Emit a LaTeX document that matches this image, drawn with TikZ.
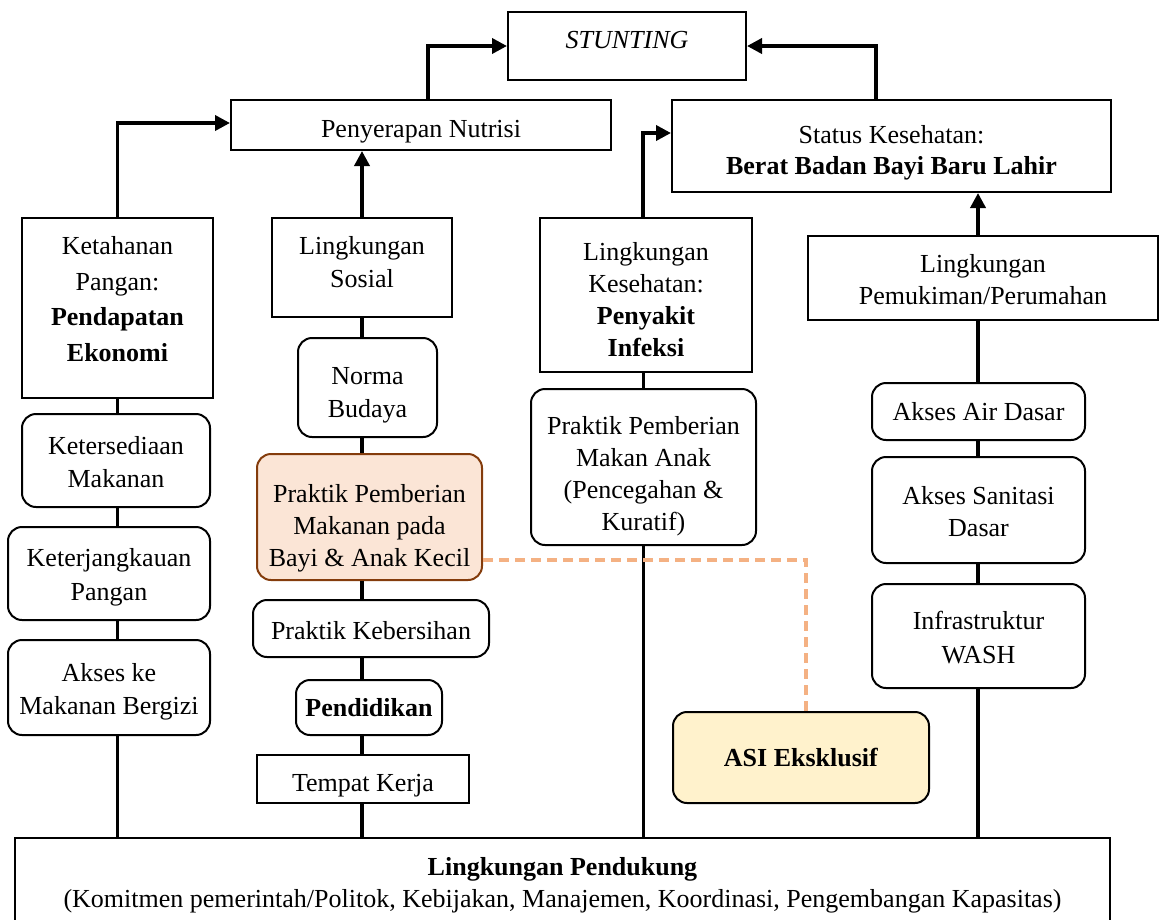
\documentclass[tikz,border=0pt]{standalone}
\usepackage{fontspec}
\setmainfont{Liberation Serif}
\usetikzlibrary{arrows.meta}
\definecolor{peachfill}{HTML}{FBE5D6}
\definecolor{peachdraw}{HTML}{843C0C}
\definecolor{asifill}{HTML}{FFF2CC}
\definecolor{dashcol}{HTML}{F4B183}
\tikzset{
  base/.style={draw=black, line width=2pt, fill=white, inner sep=0pt},
  sq/.style={base},
  rnd/.style={base, rounded corners=14pt},
  txt/.style={align=center, inner sep=0pt, font=\fontsize{26}{33}\selectfont},
  conn/.style={line width=3.6pt, black},
  arr/.style={conn, -{Triangle[length=15pt,width=15pt]}},
  dashline/.style={line width=3.2pt, dashcol, dash pattern=on 10pt off 6pt},
}
% \mybox[text options]{shape style}{name}{cx}{cy}{w}{h}{dy (down)}{text}
\newcommand\mybox[9][]{%
  \node[#2, minimum width=#6, minimum height=#7] (#3) at (#4,#5) {};
  \node[txt,#1] (#3-t) at ([yshift=-#8pt]#3.center) {#9};
}
\begin{document}
\begin{tikzpicture}[x=1pt,y=-1pt]
\useasboundingbox (0,0) rectangle (1161,919);
% top row
\mybox{sq}{stunt}{627}{46}{238}{68}{-6}{\textit{STUNTING}}
\mybox{sq}{nutri}{421}{125}{380}{50}{7}{Penyerapan Nutrisi}
\mybox[font=\fontsize{26}{31}\selectfont]{sq}{status}{891.5}{146}{439}{92}{7}{Status Kesehatan:\\\textbf{Berat Badan Bayi Baru Lahir}}
% column 1
\mybox[font=\fontsize{26}{35.5}\selectfont]{sq}{ketahanan}{117.5}{308}{191}{180}{-9}{Ketahanan\\Pangan:\\\textbf{Pendapatan}\\\textbf{Ekonomi}}
\mybox{rnd}{sedia}{116}{460.5}{188}{93}{2}{Ketersediaan\\Makanan}
\mybox[font=\fontsize{26}{34}\selectfont]{rnd}{jangkau}{109}{573.5}{202}{93}{4}{Keterjangkauan\\Pangan}
\mybox{rnd}{akses}{109}{687.5}{202}{95}{4}{Akses ke\\Makanan Bergizi}
% column 2
\mybox{sq}{sosial}{362}{267.5}{180}{99}{-5}{Lingkungan\\Sosial}
\mybox{rnd}{norma}{367.5}{387.5}{139}{99}{8}{Norma\\Budaya}
\mybox[font=\fontsize{26}{32}\selectfont]{rnd, draw=peachdraw, fill=peachfill}{pmba}{369.5}{517}{225}{126}{11}{Praktik Pemberian\\Makanan pada\\Bayi \& Anak Kecil}
\mybox{rnd}{bersih}{371}{628.5}{236}{57}{2}{Praktik Kebersihan}
\mybox{rnd}{didik}{369}{707.5}{146}{55}{0}{\textbf{Pendidikan}}
\mybox{sq}{kerja}{363}{779}{212}{48}{7}{Tempat Kerja}
% column 3
\mybox[font=\fontsize{26}{32}\selectfont]{sq}{kesehatan}{646}{295}{212}{154}{5}{Lingkungan\\Kesehatan:\\\textbf{Penyakit}\\\textbf{Infeksi}}
\mybox[font=\fontsize{26}{32}\selectfont]{rnd}{pmakan}{643.5}{467}{225}{156}{9}{Praktik Pemberian\\Makan Anak\\(Pencegahan \&\\Kuratif)}
% column 4
\mybox[font=\fontsize{26}{32}\selectfont]{sq}{pemukiman}{983}{278}{350}{84}{1.5}{Lingkungan\\Pemukiman/Perumahan}
\mybox{rnd}{air}{978.5}{411.5}{213}{57}{0}{Akses Air Dasar}
\mybox[font=\fontsize{26}{32}\selectfont]{rnd}{sanitasi}{978.5}{510}{213}{106}{2}{Akses Sanitasi\\Dasar}
\mybox[font=\fontsize{26}{34}\selectfont]{rnd}{wash}{978.5}{636}{213}{104}{2}{Infrastruktur\\WASH}
% ASI
\mybox{rnd, fill=asifill}{asi}{801}{757.5}{256}{91}{0}{\textbf{ASI Eksklusif}}
% bottom
\mybox[font=\fontsize{26}{32}\selectfont]{sq}{pendukung}{562.5}{880}{1095}{84}{5.5}{\textbf{Lingkungan Pendukung}\\(Komitmen pemerintah/Politok, Kebijakan, Manajemen, Koordinasi, Pengembangan Kapasitas)}

% arrows to top
\draw[arr] ([xshift=7pt]nutri.north) |- (stunt.west);
\draw[arr] ([xshift=-15.5pt]status.north) |- (stunt.east);
\draw[arr] (ketahanan.north) |- ([yshift=2pt]nutri.west);
\draw[arr] (sosial.north) -- (sosial.north |- nutri.south);
\draw[arr] ([xshift=-3pt]kesehatan.north) |- ([yshift=13pt]status.west);
\draw[arr] ([xshift=-5pt]pemukiman.north) -- ([xshift=-5pt]pemukiman.north |- status.south);

% column 1 chain
\draw[conn] (ketahanan.south) -- (ketahanan.south |- sedia.north);
\draw[conn] (ketahanan.south |- sedia.south) -- (ketahanan.south |- jangkau.north);
\draw[conn] (ketahanan.south |- jangkau.south) -- (ketahanan.south |- akses.north);
\draw[conn] (ketahanan.south |- akses.south) -- (ketahanan.south |- pendukung.north);
% column 2 chain
\draw[conn] (sosial.south) -- (sosial.south |- norma.north);
\draw[conn] (sosial.south |- norma.south) -- (sosial.south |- pmba.north);
\draw[conn] (sosial.south |- pmba.south) -- (sosial.south |- bersih.north);
\draw[conn] (sosial.south |- bersih.south) -- (sosial.south |- didik.north);
\draw[conn] (sosial.south |- didik.south) -- (sosial.south |- kerja.north);
\draw[conn] (sosial.south |- kerja.south) -- (sosial.south |- pendukung.north);
% column 3 chain
\draw[conn] (pmakan.north |- kesehatan.south) -- (pmakan.north);
\draw[conn] (pmakan.south) -- (pmakan.south |- pendukung.north);
% column 4 chain
\draw[conn] ([xshift=-5pt]pemukiman.south) -- ([xshift=-5pt]pemukiman.south |- air.north);
\draw[conn] ([xshift=-5pt]pemukiman.south |- air.south) -- ([xshift=-5pt]pemukiman.south |- sanitasi.north);
\draw[conn] ([xshift=-5pt]pemukiman.south |- sanitasi.south) -- ([xshift=-5pt]pemukiman.south |- wash.north);
\draw[conn] ([xshift=-5pt]pemukiman.south |- wash.south) -- ([xshift=-5pt]pemukiman.south |- pendukung.north);
% dashed link
\draw[dashline] ([yshift=-43pt]pmba.east) -| ([xshift=5pt]asi.north);
\end{tikzpicture}
\end{document}
